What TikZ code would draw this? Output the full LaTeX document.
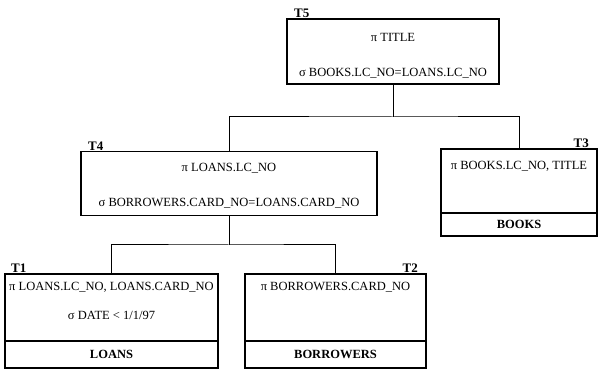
\documentclass[tikz,border=0pt]{standalone}
\usepackage{fontspec}
\setmainfont{Liberation Serif}
\usetikzlibrary{positioning}

\begin{document}
\begin{tikzpicture}[
  x=1pt, y=1pt,
  font=\fontsize{12.5}{14}\selectfont,
  box/.style={draw, line width=1.2pt, outer sep=0pt, inner sep=0pt},
  optext/.style={inner sep=0pt, text height=8.5pt, text depth=2.5pt},
  relbox/.style={box, font=\fontsize{12.5}{14}\selectfont\bfseries},
  tname/.style={inner sep=0pt, font=\fontsize{13}{14}\selectfont\bfseries},
  link/.style={line width=1pt}
]
  \useasboundingbox (0,0) rectangle (598,372);

  % T5 (root)
  \node (t5) [box, minimum width=212pt, minimum height=65pt] at (393,320.5) {};
  \node (t5-name) [tname, above right=1pt and 7pt of t5.north west] {T5};
  \node (t5-proj) [optext, below=14pt of t5.north] {π TITLE};
  \node (t5-sel) [optext, below=23pt of t5-proj] {σ BOOKS.LC\_NO=LOANS.LC\_NO};

  % T4
  \node (t4) [box, minimum width=296pt, minimum height=64pt] at (229,188.5) {};
  \node (t4-name) [tname, above right=1pt and 7pt of t4.north west] {T4};
  \node (t4-proj) [optext, below=11pt of t4.north] {π LOANS.LC\_NO};
  \node (t4-sel) [optext, below=24pt of t4-proj] {σ BORROWERS.CARD\_NO=LOANS.CARD\_NO};

  % T3
  \node (t3-ops) [box, minimum width=156pt, minimum height=64pt] at (519,191) {};
  \node (t3-rel) [relbox, minimum width=156pt, minimum height=23pt, below=0pt of t3-ops] {BOOKS};
  \node (t3-name) [tname, above left=1pt and 8pt of t3-ops.north east] {T3};
  \node (t3-proj) [optext, below=12pt of t3-ops.north] {π BOOKS.LC\_NO, TITLE};

  % T1
  \node (t1-ops) [box, minimum width=213pt, minimum height=67pt] at (111.5,64.5) {};
  \node (t1-rel) [relbox, minimum width=213pt, minimum height=27pt, below=0pt of t1-ops] {LOANS};
  \node (t1-name) [tname, above right=1pt and 6pt of t1-ops.north west] {T1};
  \node (t1-proj) [optext, below=8pt of t1-ops.north] {π LOANS.LC\_NO, LOANS.CARD\_NO};
  \node (t1-sel) [optext, below=17pt of t1-proj] {σ DATE < 1/1/97};

  % T2
  \node (t2-ops) [box, minimum width=181pt, minimum height=67pt] at (335.5,64.5) {};
  \node (t2-rel) [relbox, minimum width=181pt, minimum height=27pt, below=0pt of t2-ops] {BORROWERS};
  \node (t2-name) [tname, above left=1pt and 8pt of t2-ops.north east] {T2};
  \node (t2-proj) [optext, below=8pt of t2-ops.north] {π BORROWERS.CARD\_NO};

  % joins
  \coordinate (fork-top) at (393,255);
  \coordinate (fork-mid) at (229,127);
  \draw[link] (t5.south) -- (fork-top);
  \draw[link] (t4.north) |- (fork-top) -| (t3-ops.north);
  \draw[link] (t4.south) -- (fork-mid);
  \draw[link] (t1-ops.north) |- (fork-mid) -| (t2-ops.north);
\end{tikzpicture}
\end{document}
